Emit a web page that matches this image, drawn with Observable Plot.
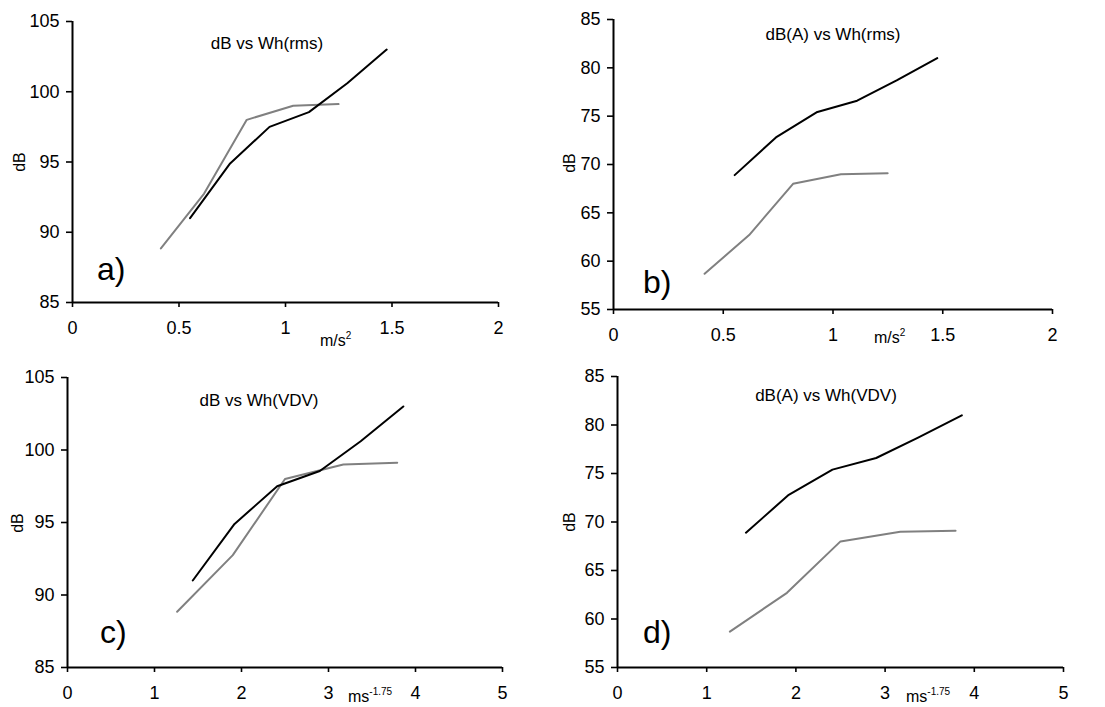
<!DOCTYPE html>
<html><head><meta charset="utf-8">
<script src="https://cdn.jsdelivr.net/npm/d3@7"></script>
<script src="https://cdn.jsdelivr.net/npm/@observablehq/plot@0.6"></script>
<style>
body{margin:0;background:#fff;}
#root{position:relative;width:1105px;height:707px;overflow:hidden;font-family:"Liberation Sans",Arial,sans-serif;}
.panel{position:absolute;}
</style></head><body><div id="root"></div>
<script>
// ---- data ----
const xRmsBlack = [0.552, 0.740, 0.925, 1.11, 1.29, 1.475];
const xVdvBlack = [1.44, 1.92, 2.41, 2.90, 3.37, 3.86];
const dBBlack   = [91.0, 94.9, 97.5, 98.55, 100.6, 103.0];
const dBABlack  = [68.9, 72.8, 75.4, 76.6, 78.7, 81.0];

const xRmsGray = [0.415, 0.618, 0.818, 1.036, 1.249];
const xVdvGray = [1.26, 1.90, 2.50, 3.17, 3.79];
const dBGray   = [88.85, 92.75, 98.0, 99.0, 99.12];
const dBAGray  = [58.7, 62.7, 68.0, 69.0, 69.1];

const xTicksRms = [0, 0.5, 1, 1.5, 2];
const xTicksVdv = [0, 1, 2, 3, 4, 5];
const yTicksDB  = [85, 90, 95, 100, 105];
const yTicksDBA = [55, 60, 65, 70, 75, 80, 85];

const titles  = ["dB vs Wh(rms)", "dB(A) vs Wh(rms)", "dB vs Wh(VDV)", "dB(A) vs Wh(VDV)"];
const letters = ["a)", "b)", "c)", "d)"];
const yLabel = "dB";
const unitRms = ["m/s", "2"];
const unitVdv = ["ms", "-1.75"];

// ---- layout ----
const panels = [
  {left:0, top:0, w:552, h:350, mL:72, mR:54, mT:21, mB:48,
   xb:xRmsBlack, yb:dBBlack, xg:xRmsGray, yg:dBGray, xDom:[0,2], xt:xTicksRms, yDom:[85,105], yt:yTicksDB,
   title:titles[0], tpos:[267,43], letter:letters[0], lpos:[97,280], ylpos:[19,162], unit:unitRms, upos:[320,346]},
  {left:552, top:0, w:553, h:350, mL:61, mR:53, mT:19, mB:41,
   xb:xRmsBlack, yb:dBABlack, xg:xRmsGray, yg:dBAGray, xDom:[0,2], xt:xTicksRms, yDom:[55,85], yt:yTicksDBA,
   title:titles[1], tpos:[281,34], letter:letters[1], lpos:[91,293], ylpos:[17,163], unit:unitRms, upos:[322,343]},
  {left:0, top:350, w:552, h:357, mL:67, mR:50, mT:27, mB:40,
   xb:xVdvBlack, yb:dBBlack, xg:xVdvGray, yg:dBGray, xDom:[0,5], xt:xTicksVdv, yDom:[85,105], yt:yTicksDB,
   title:titles[2], tpos:[259,50], letter:letters[2], lpos:[100,293], ylpos:[17,173], unit:unitVdv, upos:[348,352]},
  {left:552, top:350, w:553, h:357, mL:65, mR:42, mT:26, mB:40,
   xb:xVdvBlack, yb:dBABlack, xg:xVdvGray, yg:dBAGray, xDom:[0,5], xt:xTicksVdv, yDom:[55,85], yt:yTicksDBA,
   title:titles[3], tpos:[274,45], letter:letters[3], lpos:[91,293], ylpos:[17,172], unit:unitVdv, upos:[354,352]}
];

const root = document.getElementById("root");
const FONT = '"Liberation Sans", Arial, sans-serif';
const fmt = d => String(d);

for (const p of panels) {
  const black = p.xb.map((x, i) => ({x, y: p.yb[i]}));
  const gray = p.xg.map((x, i) => ({x, y: p.yg[i]}));
  const svg = Plot.plot({
    width: p.w, height: p.h,
    marginLeft: p.mL, marginRight: p.mR, marginTop: p.mT, marginBottom: p.mB,
    style: {fontFamily: FONT, fontSize: "18px", color: "black", background: "transparent", overflow: "visible"},
    x: {domain: p.xDom},
    y: {domain: p.yDom},
    marks: [
      Plot.axisX({ticks: p.xt, tickFormat: fmt, tickSize: 5, tickPadding: 14, label: null, strokeWidth: 1.6, fontSize: 18}),
      Plot.axisY({ticks: p.yt, tickFormat: fmt, tickSize: 6, tickPadding: 7, label: null, strokeWidth: 1.6, fontSize: 18}),
      Plot.ruleY([p.yDom[0]], {stroke: "black", strokeWidth: 2}),
      Plot.ruleX([0], {stroke: "black", strokeWidth: 2}),
      Plot.line(gray, {x: "x", y: "y", stroke: "#808080", strokeWidth: 2}),
      Plot.line(black, {x: "x", y: "y", stroke: "#000000", strokeWidth: 2})
    ]
  });
  const wrap = document.createElement("div");
  wrap.className = "panel";
  wrap.style.left = p.left + "px";
  wrap.style.top = p.top + "px";
  wrap.appendChild(svg);
  root.appendChild(wrap);

  const s = d3.select(svg);
  const g = s.append("g").attr("font-family", FONT).attr("fill", "black");
  g.append("text").attr("x", p.tpos[0]).attr("y", p.tpos[1])
    .attr("text-anchor", "middle").attr("dominant-baseline", "central")
    .attr("font-size", 17).text(p.title);
  g.append("text").attr("x", p.lpos[0]).attr("y", p.lpos[1])
    .attr("text-anchor", "start")
    .attr("font-size", 32).text(p.letter);
  g.append("text").attr("transform", `translate(${p.ylpos[0]},${p.ylpos[1]}) rotate(-90)`)
    .attr("text-anchor", "middle").attr("dominant-baseline", "central")
    .attr("font-size", 16).text(yLabel);
  const u = g.append("text").attr("x", p.upos[0]).attr("y", p.upos[1])
    .attr("text-anchor", "start").attr("font-size", 16);
  u.append("tspan").text(p.unit[0]);
  u.append("tspan").attr("dy", -7).attr("font-size", 10).text(p.unit[1]);
}
</script>
</body></html>
